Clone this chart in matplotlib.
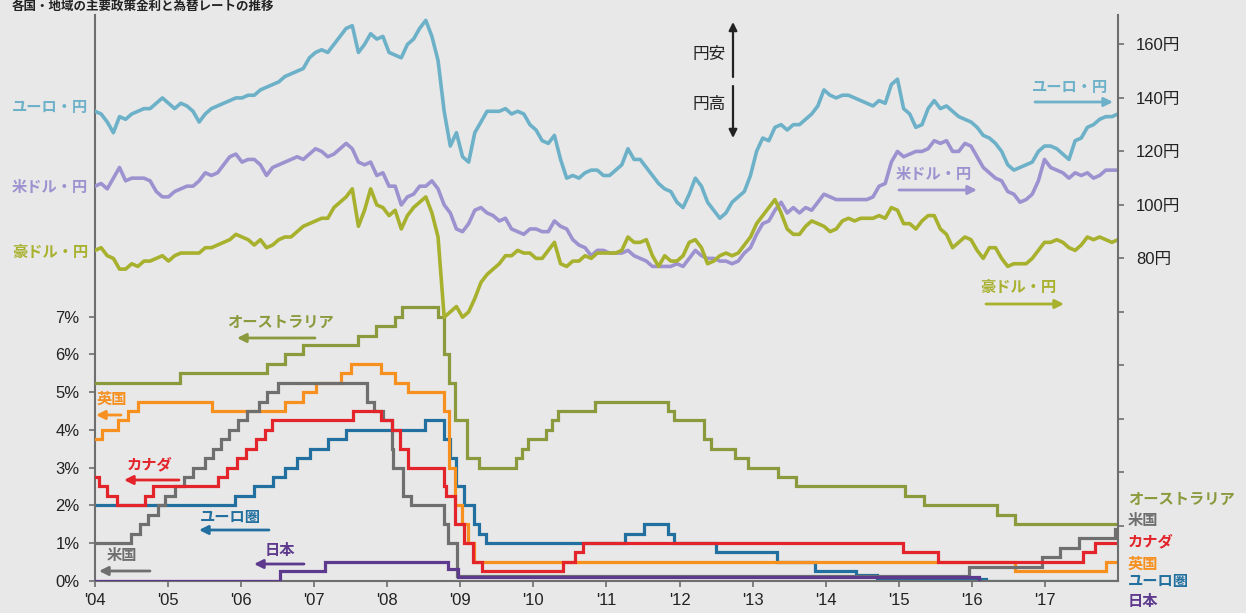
import numpy as np
import matplotlib
matplotlib.use("Agg")
import matplotlib.pyplot as plt

plt.rcParams['font.family'] = ['Liberation Sans', 'Noto Sans CJK JP', 'DejaVu Sans']

# ---- policy rates (%), change points as decimal years ----
aus_dates = [2004.0, 2005.17, 2006.35, 2006.6, 2006.85, 2007.6, 2007.85, 2008.1, 2008.2,
             2008.7, 2008.77, 2008.84, 2008.92, 2009.09, 2009.26, 2009.76, 2009.84, 2009.92,
             2010.17, 2010.26, 2010.34, 2010.84, 2011.84, 2011.93, 2012.34, 2012.43, 2012.76,
             2012.94, 2013.35, 2013.6, 2015.09, 2015.34, 2016.34, 2016.59]
aus_rates = [5.25, 5.5, 5.75, 6.0, 6.25, 6.5, 6.75, 7.0, 7.25,
             7.0, 6.0, 5.25, 4.25, 3.25, 3.0, 3.25, 3.5, 3.75,
             4.0, 4.25, 4.5, 4.75, 4.5, 4.25, 3.75, 3.5, 3.25,
             3.0, 2.75, 2.5, 2.25, 2.0, 1.75, 1.5]

us_dates = [2004.0, 2004.49, 2004.61, 2004.72, 2004.86, 2004.96, 2005.09, 2005.22, 2005.34,
            2005.5, 2005.61, 2005.72, 2005.84, 2005.96, 2006.08, 2006.24, 2006.36, 2006.5,
            2007.72, 2007.82, 2007.94, 2008.06, 2008.08, 2008.22, 2008.33, 2008.77, 2008.83,
            2008.96, 2015.96, 2016.96, 2017.21, 2017.46, 2017.96]
us_rates = [1.0, 1.25, 1.5, 1.75, 2.0, 2.25, 2.5, 2.75, 3.0,
            3.25, 3.5, 3.75, 4.0, 4.25, 4.5, 4.75, 5.0, 5.25,
            4.75, 4.5, 4.25, 3.5, 3.0, 2.25, 2.0, 1.5, 1.0,
            0.125, 0.375, 0.625, 0.875, 1.125, 1.375]

uk_dates = [2004.0, 2004.1, 2004.32, 2004.45, 2004.59, 2005.6, 2006.6, 2006.85, 2007.03,
            2007.37, 2007.51, 2007.92, 2008.1, 2008.28, 2008.77, 2008.84, 2008.93, 2009.02,
            2009.1, 2009.18, 2016.59, 2017.84]
uk_rates = [3.75, 4.0, 4.25, 4.5, 4.75, 4.5, 4.75, 5.0, 5.25,
            5.5, 5.75, 5.5, 5.25, 5.0, 4.5, 3.0, 2.0, 1.5,
            1.0, 0.5, 0.25, 0.5]

ca_dates = [2004.0, 2004.06, 2004.16, 2004.3, 2004.68, 2004.8, 2005.69, 2005.8, 2005.94,
            2006.07, 2006.21, 2006.33, 2006.42, 2007.53, 2007.92, 2008.06, 2008.17, 2008.29,
            2008.77, 2008.8, 2008.93, 2009.05, 2009.17, 2009.3, 2010.41, 2010.57, 2010.68,
            2015.06, 2015.54, 2017.52, 2017.69]
ca_rates = [2.75, 2.5, 2.25, 2.0, 2.25, 2.5, 2.75, 3.0, 3.25,
            3.5, 3.75, 4.0, 4.25, 4.5, 4.25, 4.0, 3.5, 3.0,
            2.5, 2.25, 1.5, 1.0, 0.5, 0.25, 0.5, 0.75, 1.0,
            0.75, 0.5, 0.75, 1.0]

eu_dates = [2004.0, 2005.92, 2006.17, 2006.44, 2006.6, 2006.76, 2006.94, 2007.19, 2007.44,
            2008.51, 2008.77, 2008.86, 2008.94, 2009.05, 2009.18, 2009.26, 2009.35, 2011.25,
            2011.52, 2011.84, 2011.93, 2012.5, 2013.33, 2013.85, 2014.42, 2014.7, 2016.2]
eu_rates = [2.0, 2.25, 2.5, 2.75, 3.0, 3.25, 3.5, 3.75, 4.0,
            4.25, 3.75, 3.25, 2.5, 2.0, 1.5, 1.25, 1.0, 1.25,
            1.5, 1.25, 1.0, 0.75, 0.5, 0.25, 0.15, 0.05, 0.0]

jp_dates = [2004.0, 2006.53, 2007.15, 2008.83, 2008.97, 2016.1]
jp_rates = [0.0, 0.25, 0.5, 0.3, 0.1, -0.1]

# ---- exchange rates (yen), monthly 2004-2017 ----
eurjpy = [135, 134, 131, 127, 133, 132, 134, 135, 136, 136, 138, 140,
          138, 136, 138, 137, 135, 131, 134, 136, 137, 138, 139, 140,
          140, 141, 141, 143, 144, 145, 146, 148, 149, 150, 151, 155,
          157, 158, 157, 160, 163, 166, 167, 157, 160, 164, 162, 163,
          157, 156, 155, 160, 162, 166, 169, 163, 154, 135, 122, 127,
          118, 116, 127, 131, 135, 135, 135, 136, 134, 135, 134, 130,
          128, 124, 123, 126, 117, 110, 111, 110, 112, 113, 113, 111,
          111, 113, 115, 121, 117, 117, 114, 111, 108, 106, 105, 101,
          99, 104, 110, 107, 101, 98, 95, 97, 101, 103, 105, 111,
          120, 125, 124, 129, 130, 128, 130, 130, 132, 134, 137, 143,
          141, 140, 141, 141, 140, 139, 138, 137, 139, 138, 145, 147,
          136, 134, 129, 130, 136, 139, 136, 137, 135, 133, 132, 131,
          129, 126, 125, 123, 120, 115, 113, 114, 115, 116, 120, 122,
          122, 121, 119, 117, 124, 125, 129, 130, 132, 133, 133, 134]

usdjpy = [107, 108, 106, 110, 114, 109, 110, 110, 110, 109, 105, 103,
          103, 105, 106, 107, 107, 109, 112, 111, 112, 115, 118, 119,
          116, 117, 117, 115, 111, 114, 115, 116, 117, 118, 117, 119,
          121, 120, 118, 119, 121, 123, 121, 116, 115, 116, 111, 112,
          107, 107, 100, 103, 104, 107, 107, 109, 106, 100, 97, 91,
          90, 93, 98, 99, 97, 96, 94, 95, 91, 90, 89, 91,
          91, 90, 90, 94, 92, 91, 87, 85, 84, 81, 83, 83,
          82, 82, 82, 83, 81, 80, 79, 77, 77, 77, 77, 78,
          77, 80, 83, 81, 80, 80, 79, 79, 78, 79, 82, 84,
          89, 93, 94, 98, 101, 97, 99, 97, 99, 98, 101, 104,
          103, 102, 102, 102, 102, 102, 102, 103, 107, 108, 116, 120,
          118, 119, 120, 120, 121, 124, 123, 124, 120, 120, 123, 122,
          118, 114, 112, 110, 109, 105, 104, 101, 102, 104, 109, 117,
          114, 113, 112, 110, 112, 111, 112, 110, 111, 113, 113, 113]

audjpy = [83, 84, 81, 80, 76, 76, 78, 77, 79, 79, 80, 81,
          79, 81, 82, 82, 82, 82, 84, 84, 85, 86, 87, 89,
          88, 87, 85, 87, 84, 85, 87, 88, 88, 90, 92, 93,
          94, 95, 95, 99, 101, 103, 106, 92, 98, 106, 100, 99,
          96, 98, 91, 96, 99, 101, 103, 97, 88, 58, 60, 62,
          58, 60, 65, 71, 74, 76, 78, 81, 81, 83, 82, 82,
          80, 80, 83, 86, 78, 77, 79, 79, 81, 80, 82, 82,
          82, 82, 83, 88, 86, 86, 87, 81, 77, 81, 79, 79,
          81, 86, 87, 84, 78, 79, 81, 82, 81, 82, 85, 88,
          93, 96, 99, 102, 97, 91, 89, 89, 92, 94, 93, 92,
          90, 91, 94, 95, 94, 95, 95, 95, 96, 95, 99, 98,
          93, 93, 91, 94, 96, 96, 91, 89, 84, 86, 88, 87,
          83, 80, 84, 84, 80, 77, 78, 78, 78, 80, 83, 86,
          86, 87, 86, 84, 83, 85, 88, 87, 88, 87, 86, 87]

years = list(range(2004, 2018))
year_labels = ["'04", "'05", "'06", "'07", "'08", "'09", "'10", "'11", "'12",
               "'13", "'14", "'15", "'16", "'17"]
rate_ticks = [0, 1, 2, 3, 4, 5, 6, 7]
yen_ticks = [-20, 0, 20, 40, 60, 80, 100, 120, 140, 160]

C_AUS = '#8a9a3c'
C_US = '#6f6f6f'
C_UK = '#f7901e'
C_CA = '#e3242b'
C_EU = '#21709f'
C_JP = '#5e3a8e'
C_EURJPY = '#6db1c9'
C_USDJPY = '#9d92cf'
C_AUDJPY = '#a8b12e'
BG = '#e8e8e8'
AXC = '#6e6e6e'

W, H = 1246, 613
fig = plt.figure(figsize=(W / 100, H / 100), dpi=100)
fig.patch.set_facecolor(BG)


def fx(x):
    return x / W


def fy(y):
    return 1 - y / H


ax = fig.add_axes([fx(95), fy(580.7), (1118 - 95) / W, (580.7 - 15) / H])
ax.set_facecolor(BG)
ax2 = ax.twinx()
ax2.patch.set_visible(False)


def step(a, d, r, c, z):
    a.step(d + [2018.0], r + [r[-1]], where='post', color=c, lw=2.3, zorder=z,
           solid_joinstyle='miter')


step(ax, eu_dates, eu_rates, C_EU, 2)
step(ax, uk_dates, uk_rates, C_UK, 3)
step(ax, us_dates, us_rates, C_US, 4)
step(ax, ca_dates, ca_rates, C_CA, 5)
step(ax, jp_dates, jp_rates, C_JP, 6)
step(ax, aus_dates, aus_rates, C_AUS, 7)

n = len(eurjpy)
t = 2004 + np.arange(n) * 14.0 / (n - 1)
ax2.plot(t, eurjpy, color=C_EURJPY, lw=2.6)
ax2.plot(t, usdjpy, color=C_USDJPY, lw=2.6)
ax2.plot(t, audjpy, color=C_AUDJPY, lw=2.6)

ax.set_xlim(2004, 2018)
ax.set_ylim(0, 15)
ax2.set_ylim(-40.5, 171)

ax.set_xticks(years)
ax.set_xticklabels(year_labels)
ax.set_yticks(rate_ticks)
ax.set_yticklabels([f'{v}%' for v in rate_ticks])
ax2.set_yticks(yen_ticks)
ax2.set_yticklabels([f'{v}円' if v >= 80 else '' for v in yen_ticks])

for s in ['top', 'right']:
    ax.spines[s].set_visible(False)
for s in ['top', 'left', 'bottom']:
    ax2.spines[s].set_visible(False)
for s in ['left', 'bottom']:
    ax.spines[s].set_color(AXC)
    ax.spines[s].set_linewidth(1.5)
ax2.spines['right'].set_color(AXC)
ax2.spines['right'].set_linewidth(1.5)

ax.tick_params(axis='x', direction='out', length=4, width=1.2, color=AXC,
               labelsize=12, labelcolor='#222222', pad=5)
ax.tick_params(axis='y', direction='out', length=4, width=1.2, color=AXC,
               labelsize=12, labelcolor='#222222', pad=7)
ax2.tick_params(axis='y', direction='out', length=4, width=1.2, color=AXC,
                labelsize=12, labelcolor='#222222', pad=9)

# heading at the very top edge
fig.text(fx(12), fy(1), '各国・地域の主要政策金利と為替レートの推移', fontsize=9,
         fontweight='bold', color='#222222', ha='left', va='top')


def label(x, y, s, c, ha='left', size=11, weight='bold'):
    fig.text(fx(x), fy(y), s, color=c, ha=ha, va='center', fontsize=size,
             fontweight=weight)


def arrow(x0, y0, x1, y1, c, lw=2.0, ms=13):
    ax.annotate('', xy=(fx(x1), fy(y1)), xytext=(fx(x0), fy(y0)),
                xycoords='figure fraction', textcoords='figure fraction',
                arrowprops=dict(arrowstyle='-|>', color=c, lw=lw,
                                mutation_scale=ms, shrinkA=0, shrinkB=0))


# exchange rate labels
label(88, 108, 'ユーロ・円', C_EURJPY, ha='right')
label(88, 188, '米ドル・円', C_USDJPY, ha='right')
label(88, 253, '豪ドル・円', C_AUDJPY, ha='right')
label(1032, 88, 'ユーロ・円', C_EURJPY)
arrow(1035, 102, 1113, 102, C_EURJPY)
label(896, 175, '米ドル・円', C_USDJPY)
arrow(899, 190, 977, 190, C_USDJPY)
label(980, 288, '豪ドル・円', C_AUDJPY)
arrow(986, 304, 1064, 304, C_AUDJPY)

# yen direction
label(726, 55, '円安', '#222222', ha='right', size=12, weight='normal')
label(726, 105, '円高', '#222222', ha='right', size=12, weight='normal')
arrow(733, 77, 733, 22, '#222222', lw=1.6, ms=12)
arrow(733, 86, 733, 138, '#222222', lw=1.6, ms=12)

# policy rate labels (left side)
label(227, 323, 'オーストラリア', C_AUS)
arrow(315, 338, 237, 338, C_AUS)
label(97, 400, '英国', C_UK)
arrow(121, 415, 96, 415, C_UK)
label(127, 465, 'カナダ', C_CA)
arrow(179, 480, 124, 480, C_CA)
label(200, 518, 'ユーロ圏', C_EU)
arrow(269, 530, 199, 530, C_EU)
label(107, 556, '米国', C_US)
arrow(150, 571, 99, 571, C_US)
label(265, 551, '日本', C_JP)
arrow(304, 564, 254, 564, C_JP)

# policy rate labels (right side)
label(1128, 500, 'オーストラリア', C_AUS)
label(1128, 521, '米国', C_US)
label(1128, 542, 'カナダ', C_CA)
label(1128, 565, '英国', C_UK)
label(1128, 582, 'ユーロ圏', C_EU)
label(1128, 602, '日本', C_JP)

fig.savefig('out.png', dpi=100, facecolor=BG)
